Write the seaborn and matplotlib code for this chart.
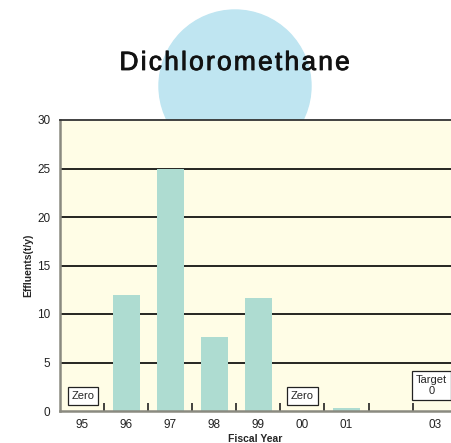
import matplotlib
matplotlib.use("Agg")
import matplotlib.pyplot as plt
import matplotlib.patheffects as pe
import seaborn as sns
import pandas as pd
import numpy as np
from matplotlib.patches import Circle

sns.set_theme(style="white")
plt.rcParams['font.family'] = ['Liberation Sans', 'DejaVu Sans']

title = "Dichloromethane"
years = ["95", "96", "97", "98", "99", "00", "01", "02", "03"]
tick_labels = ["95", "96", "97", "98", "99", "00", "01", "", "03"]
effluents = [0, 12.0, 25.0, 7.6, 11.7, 0, 0.3, np.nan, 0]
notes = {0: "Zero", 5: "Zero", 8: "Target\n0"}
note_x = {0: 0.02, 5: 5.0, 8: 7.93}
note_y = {0: 1.55, 5: 1.55, 8: 2.65}

df = pd.DataFrame({"year": years, "value": effluents})

W, H = 451, 443
fig = plt.figure(figsize=(W / 100, H / 100), dpi=100)

# background decoration axes
bg = fig.add_axes([0, 0, 1, 1])
bg.set_xlim(0, W)
bg.set_ylim(H, 0)
bg.axis("off")
bg.add_patch(Circle((235, 86), 76, color="#bfe5f1", zorder=0))
spaced = "\u200a".join(title)
bg.text(235, 63, spaced, ha="center", va="center",
        fontsize=19, fontweight="normal", color="#111111",
        path_effects=[pe.withStroke(linewidth=0.6, foreground="#111111")])

ax = fig.add_axes([60 / W, 1 - 411 / H, 1 - 60 / W, (411 - 120) / H])
ax.set_facecolor("#fffde6")
ax.set_axisbelow(True)
for v in [5, 10, 15, 20, 25]:
    ax.axhline(v, color="black", lw=1.2, zorder=0)

sns.barplot(data=df, x="year", y="value", order=years, color="#aedcd1",
            width=0.61, saturation=1, ax=ax, zorder=2, edgecolor="none")

ax.set_xlim(-0.5, 8.37)
ax.set_ylim(0, 30)
ax.set_yticks([0, 5, 10, 15, 20, 25, 30])
ax.set_xticks(range(len(years)))
ax.set_xticklabels(tick_labels)
ax.set_xticks(np.arange(0.5, 8, 1), minor=True)
ax.tick_params(axis="x", which="major", length=0, pad=6, labelsize=8.5,
               labelcolor="#222222")
ax.tick_params(axis="x", which="minor", direction="in", length=6, width=1.2,
               color="#222222", bottom=True)
ax.tick_params(axis="y", length=0, pad=7, labelsize=8.5, labelcolor="#222222")

ax.set_xlabel("Fiscal Year", fontsize=7.5, fontweight="bold", labelpad=2)
ax.set_ylabel("Effluents(t/y)", fontsize=7.5, fontweight="bold", labelpad=3)

for k in ["left", "bottom"]:
    ax.spines[k].set_color("#8a8a80")
    ax.spines[k].set_linewidth(1.8)
ax.spines["top"].set_color("#333333")
ax.spines["top"].set_linewidth(1.3)
ax.spines["right"].set_visible(False)

for i, txt in notes.items():
    ax.text(note_x[i], note_y[i], txt, ha="center", va="center", fontsize=8,
            zorder=3, linespacing=1.1,
            bbox=dict(boxstyle="square,pad=0.35", fc="white", ec="#222222", lw=0.9))

fig.savefig("out.png", dpi=100)
